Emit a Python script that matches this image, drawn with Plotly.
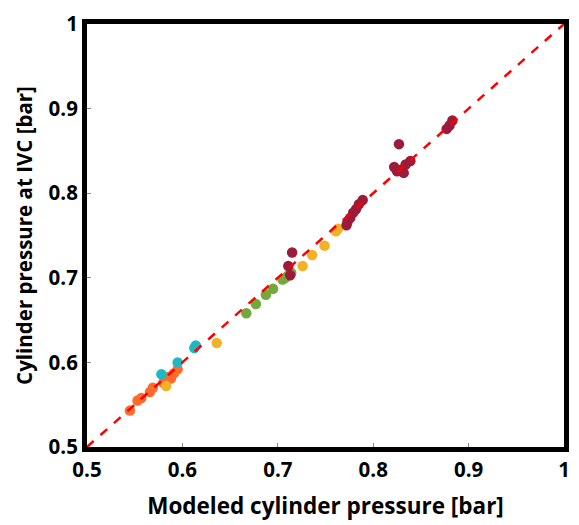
import plotly.graph_objects as go

# Data (modeled, measured) per group
red_x = [0.883, 0.880, 0.877, 0.827, 0.822, 0.825, 0.830, 0.834, 0.839, 0.832,
         0.789, 0.785, 0.782, 0.779, 0.776, 0.773, 0.772, 0.715, 0.711, 0.713]
red_y = [0.886, 0.880, 0.876, 0.858, 0.831, 0.826, 0.828, 0.834, 0.838, 0.824,
         0.792, 0.787, 0.781, 0.777, 0.771, 0.766, 0.762, 0.730, 0.714, 0.703]

yellow_x = [0.761, 0.763, 0.749, 0.736, 0.726, 0.636, 0.583]
yellow_y = [0.755, 0.758, 0.738, 0.727, 0.714, 0.623, 0.572]

green_x = [0.705, 0.708, 0.711, 0.714, 0.695, 0.6875, 0.677, 0.667]
green_y = [0.698, 0.700, 0.703, 0.706, 0.687, 0.680, 0.669, 0.658]

cyan_x = [0.6125, 0.614, 0.595, 0.578]
cyan_y = [0.617, 0.620, 0.600, 0.586]

orange_x = [0.595, 0.591, 0.586, 0.588, 0.580, 0.569, 0.566, 0.557, 0.553, 0.545]
orange_y = [0.592, 0.587, 0.583, 0.581, 0.576, 0.570, 0.565, 0.558, 0.555, 0.543]

ref_line = [0.5, 1.0]
tick_vals = [0.5, 0.6, 0.7, 0.8, 0.9, 1.0]
tick_text = ["0.5", "0.6", "0.7", "0.8", "0.9", "1"]

groups = [
    (orange_x, orange_y, "#FF6B2B"),
    (cyan_x, cyan_y, "#1DB9C3"),
    (green_x, green_y, "#73A83C"),
    (yellow_x, yellow_y, "#F2B226"),
    (red_x, red_y, "#9C1B3A"),
]

fig = go.Figure()
for gx, gy, col in groups:
    fig.add_trace(go.Scatter(x=gx, y=gy, mode="markers",
                             marker=dict(color=col, size=10.5, line=dict(width=0)),
                             showlegend=False))

fig.add_trace(go.Scatter(x=ref_line, y=ref_line, mode="lines",
                         line=dict(color="#FF0000", width=2.5, dash="dash"),
                         showlegend=False))

font_main = "'Open Sans', Lato, sans-serif"
axis_common = dict(
    range=[0.5, 1.0], tickvals=tick_vals, ticktext=tick_text,
    showgrid=False, zeroline=False,
    showline=True, linecolor="black", linewidth=5, mirror=True,
    ticks="inside", ticklen=4, tickcolor="#888888", tickwidth=1,
    tickfont=dict(family=font_main, size=20.5, color="black", weight="bold"),
)

fig.update_layout(
    width=579, height=525,
    margin=dict(l=87, r=9, t=17, b=78),
    paper_bgcolor="white", plot_bgcolor="white",
    xaxis=dict(**axis_common,
               title=dict(text="Modeled cylinder pressure [bar]",
                          font=dict(family=font_main, size=22.5, color="black", weight="bold"),
                          standoff=18)),
    yaxis=dict(**axis_common,
               title=dict(text="Cylinder pressure at IVC [bar]",
                          font=dict(family=font_main, size=20.5, color="black", weight="bold"),
                          standoff=12)),
)

fig.write_html("out.html")
